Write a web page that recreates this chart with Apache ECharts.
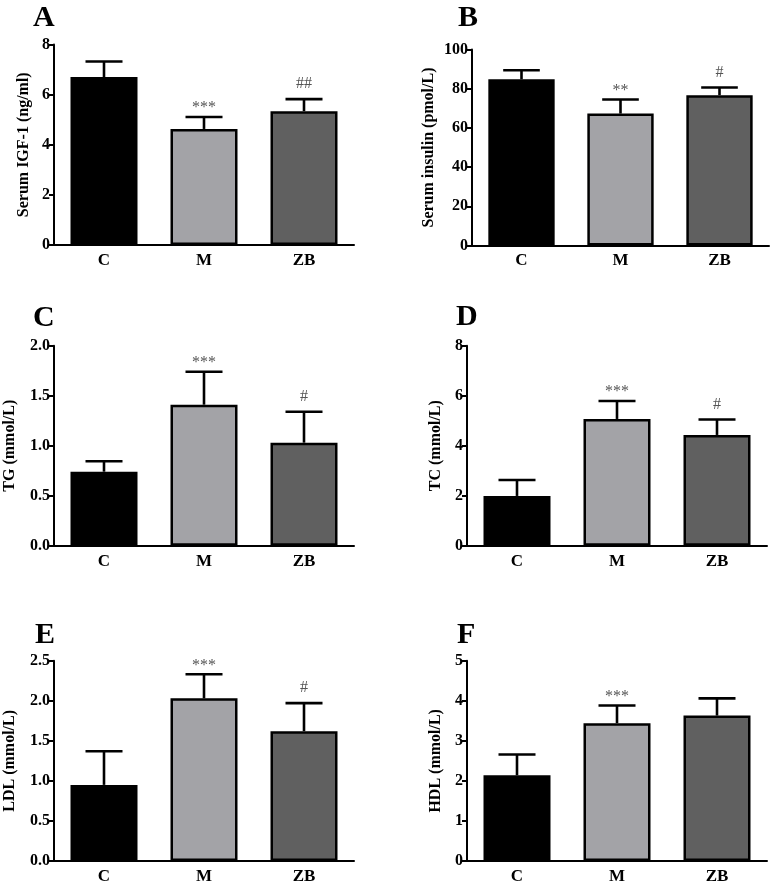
<!DOCTYPE html>
<html>
<head>
<meta charset="utf-8">
<script src="https://cdn.jsdelivr.net/npm/echarts@6/dist/echarts.min.js"></script>
<style>
html,body{margin:0;padding:0;background:#fff;}
#chart{width:774px;height:886px;}
</style>
</head>
<body>
<div id="chart"></div>
<script>
// ---------- data ----------
const categories = ['C', 'M', 'ZB'];

const igfMean = [6.70, 4.63, 5.34];
const igfSD   = [0.62, 0.48, 0.48];
const igfSig  = ['', '***', '##'];

const insulinMean = [84.8, 67.3, 76.7];
const insulinSD   = [4.6, 7.2, 3.9];
const insulinSig  = ['', '**', '#'];

const tgMean = [0.74, 1.41, 1.03];
const tgSD   = [0.105, 0.33, 0.31];
const tgSig  = ['', '***', '#'];

const tcMean = [1.99, 5.07, 4.43];
const tcSD   = [0.64, 0.72, 0.62];
const tcSig  = ['', '***', '#'];

const ldlMean = [0.95, 2.03, 1.62];
const ldlSD   = [0.42, 0.30, 0.35];
const ldlSig  = ['', '***', '#'];

const hdlMean = [2.14, 3.44, 3.63];
const hdlSD   = [0.52, 0.44, 0.43];
const hdlSig  = ['', '***', ''];

const panelLetters = ['A', 'B', 'C', 'D', 'E', 'F'];
const yTitles = ['Serum IGF-1 (ng/ml)', 'Serum insulin (pmol/L)', 'TG (mmol/L)', 'TC (mmol/L)', 'LDL (mmol/L)', 'HDL (mmol/L)'];
const yMax      = [8, 100, 2.0, 8, 2.5, 5];
const yInterval = [2, 20, 0.5, 2, 0.5, 1];
const yDecimals = [0, 0, 1, 0, 1, 0];

// ---------- layout ----------
const FONT = '"Liberation Serif", "Times New Roman", serif';
const barColors = ['#000000', '#a3a3a7', '#606060'];
const grids = [
  {left: 54,  top: 44.5,  width: 300, height: 200.5},
  {left: 472, top: 49.5,  width: 297, height: 196},
  {left: 54,  top: 345.7, width: 300, height: 200},
  {left: 467, top: 345.7, width: 300, height: 200},
  {left: 54,  top: 660.7, width: 300, height: 200.3},
  {left: 467, top: 660.7, width: 300, height: 200.3}
];
const nameGaps = [22, 35, 36, 23, 36, 23];
const letterPos = [[33, 20], [458, 20], [33, 320], [456, 319], [35, 637], [457, 637]];

const means = [igfMean, insulinMean, tgMean, tcMean, ldlMean, hdlMean];
const sds   = [igfSD, insulinSD, tgSD, tcSD, ldlSD, hdlSD];
const sigs  = [igfSig, insulinSig, tgSig, tcSig, ldlSig, hdlSig];

function makeErrRender(sigArr) {
  return function (params, api) {
    const x = api.value(0), m = api.value(1), u = api.value(2);
    const p0 = api.coord([x, m]);
    const p1 = api.coord([x, u]);
    const bw = api.size([1, 0])[0];
    const half = bw * 0.185;
    const style = {stroke: '#000', lineWidth: 2.6};
    const children = [
      {type: 'line', shape: {x1: p0[0], y1: p0[1], x2: p1[0], y2: p1[1]}, style: style},
      {type: 'line', shape: {x1: p1[0] - half, y1: p1[1], x2: p1[0] + half, y2: p1[1]}, style: style}
    ];
    const s = sigArr[params.dataIndex];
    if (s) {
      const isStar = s.indexOf('*') >= 0;
      children.push({
        type: 'text',
        style: {
          text: s, x: p1[0], y: p1[1] - (isStar ? 1 : 7),
          fill: '#555', font: '16px ' + FONT,
          align: 'center', verticalAlign: 'bottom'
        }
      });
    }
    return {type: 'group', children: children};
  };
}

const option = {
  animation: false,
  backgroundColor: '#fff',
  grid: [], xAxis: [], yAxis: [], series: [],
  graphic: []
};

for (let i = 0; i < 6; i++) {
  option.grid.push(Object.assign({containLabel: false}, grids[i]));
  option.xAxis.push({
    type: 'category', gridIndex: i, data: categories,
    axisLine: {lineStyle: {color: '#000', width: 2}},
    axisTick: {alignWithLabel: true, length: 5, lineStyle: {color: '#000', width: 2}},
    axisLabel: {color: '#000', fontFamily: FONT, fontWeight: 'bold', fontSize: 17, margin: 7}
  });
  const dec = yDecimals[i];
  option.yAxis.push({
    type: 'value', gridIndex: i, min: 0, max: yMax[i], interval: yInterval[i],
    name: yTitles[i], nameLocation: 'middle', nameGap: nameGaps[i],
    nameTextStyle: {color: '#000', fontFamily: FONT, fontWeight: 'bold', fontSize: 16},
    axisLine: {show: true, lineStyle: {color: '#000', width: 2}},
    axisTick: {show: true, length: 5, lineStyle: {color: '#000', width: 2}},
    splitLine: {show: false},
    axisLabel: {color: '#000', fontFamily: FONT, fontWeight: 'bold', fontSize: 16, margin: 4,
      formatter: v => v.toFixed(dec)}
  });
  option.series.push({
    type: 'bar', xAxisIndex: i, yAxisIndex: i, barWidth: '67%',
    data: means[i].map((v, k) => ({value: v, itemStyle: {color: barColors[k]}})),
    itemStyle: {borderColor: '#000', borderWidth: 2.5}
  });
  option.series.push({
    type: 'custom', xAxisIndex: i, yAxisIndex: i, z: 3,
    renderItem: makeErrRender(sigs[i]),
    data: means[i].map((v, k) => [k, v, v + sds[i][k]])
  });
  option.graphic.push({
    type: 'text', left: letterPos[i][0], top: letterPos[i][1] - 17,
    style: {text: panelLetters[i], fill: '#000', font: 'bold 30px ' + FONT}
  });
}

const chart = echarts.init(document.getElementById('chart'), null, {renderer: 'canvas'});
chart.setOption(option);
</script>
</body>
</html>
